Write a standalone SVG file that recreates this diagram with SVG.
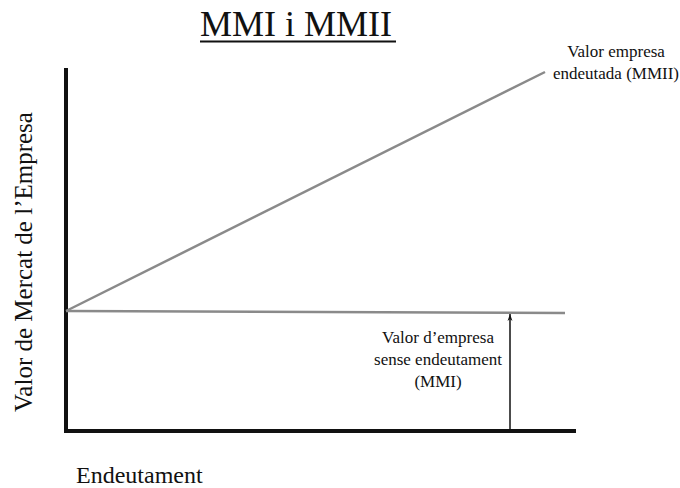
<svg xmlns="http://www.w3.org/2000/svg" width="680" height="488" viewBox="0 0 680 488">
  <style>
    text { font-family: "Liberation Serif", "Times New Roman", serif; fill: #111; }
    .title { font-size: 36px; }
    .lbl { font-size: 17px; text-anchor: middle; }
    .axislbl { font-size: 24px; }
    .ylbl { font-size: 25px; }
    .axis { stroke: #111; stroke-width: 4; fill: none; }
    .curve { stroke: #8a8a8a; stroke-width: 2.5; fill: none; }
    .arrow { stroke: #111; stroke-width: 1.5; fill: none; }
  </style>
  <defs>
    <marker id="head" viewBox="0 0 10 10" refX="10" refY="5" markerWidth="10" markerHeight="7" markerUnits="userSpaceOnUse" orient="auto">
      <path d="M0,1.5 L10,5 L0,8.5 L3,5 Z" fill="#111"/>
    </marker>
  </defs>

  <!-- Title -->
  <g id="title">
    <text class="title" x="200" y="36">MMI i MMII</text>
    <line x1="200" y1="41.5" x2="396" y2="41.5" stroke="#111" stroke-width="2"/>
  </g>

  <!-- Axes -->
  <g id="axes">
    <line class="axis" x1="66" y1="68" x2="66" y2="433"/>
    <line class="axis" x1="64" y1="431" x2="576" y2="431"/>
  </g>

  <!-- Value lines and arrow -->
  <g id="connectors">
    <line id="mmii-line" class="curve" x1="66" y1="311" x2="545" y2="72"/>
    <line id="mmi-line" class="curve" x1="66" y1="311" x2="565" y2="313"/>
    <line id="mmi-arrow" class="arrow" x1="510" y1="430" x2="510" y2="314" marker-end="url(#head)"/>
  </g>

  <g id="mmii-label">
    <text class="lbl" x="616" y="57">Valor empresa</text>
    <text class="lbl" x="616" y="79">endeutada (MMII)</text>
  </g>

  <g id="mmi-label">
    <text class="lbl" x="438" y="343">Valor d’empresa</text>
    <text class="lbl" x="438" y="365">sense endeutament</text>
    <text class="lbl" x="438" y="387">(MMI)</text>
  </g>

  <g id="y-label">
    <text class="ylbl" transform="translate(32,262) rotate(-90)" text-anchor="middle">Valor de Mercat de l’Empresa</text>
  </g>

  <g id="x-label">
    <text class="axislbl" x="76" y="483">Endeutament</text>
  </g>
</svg>
